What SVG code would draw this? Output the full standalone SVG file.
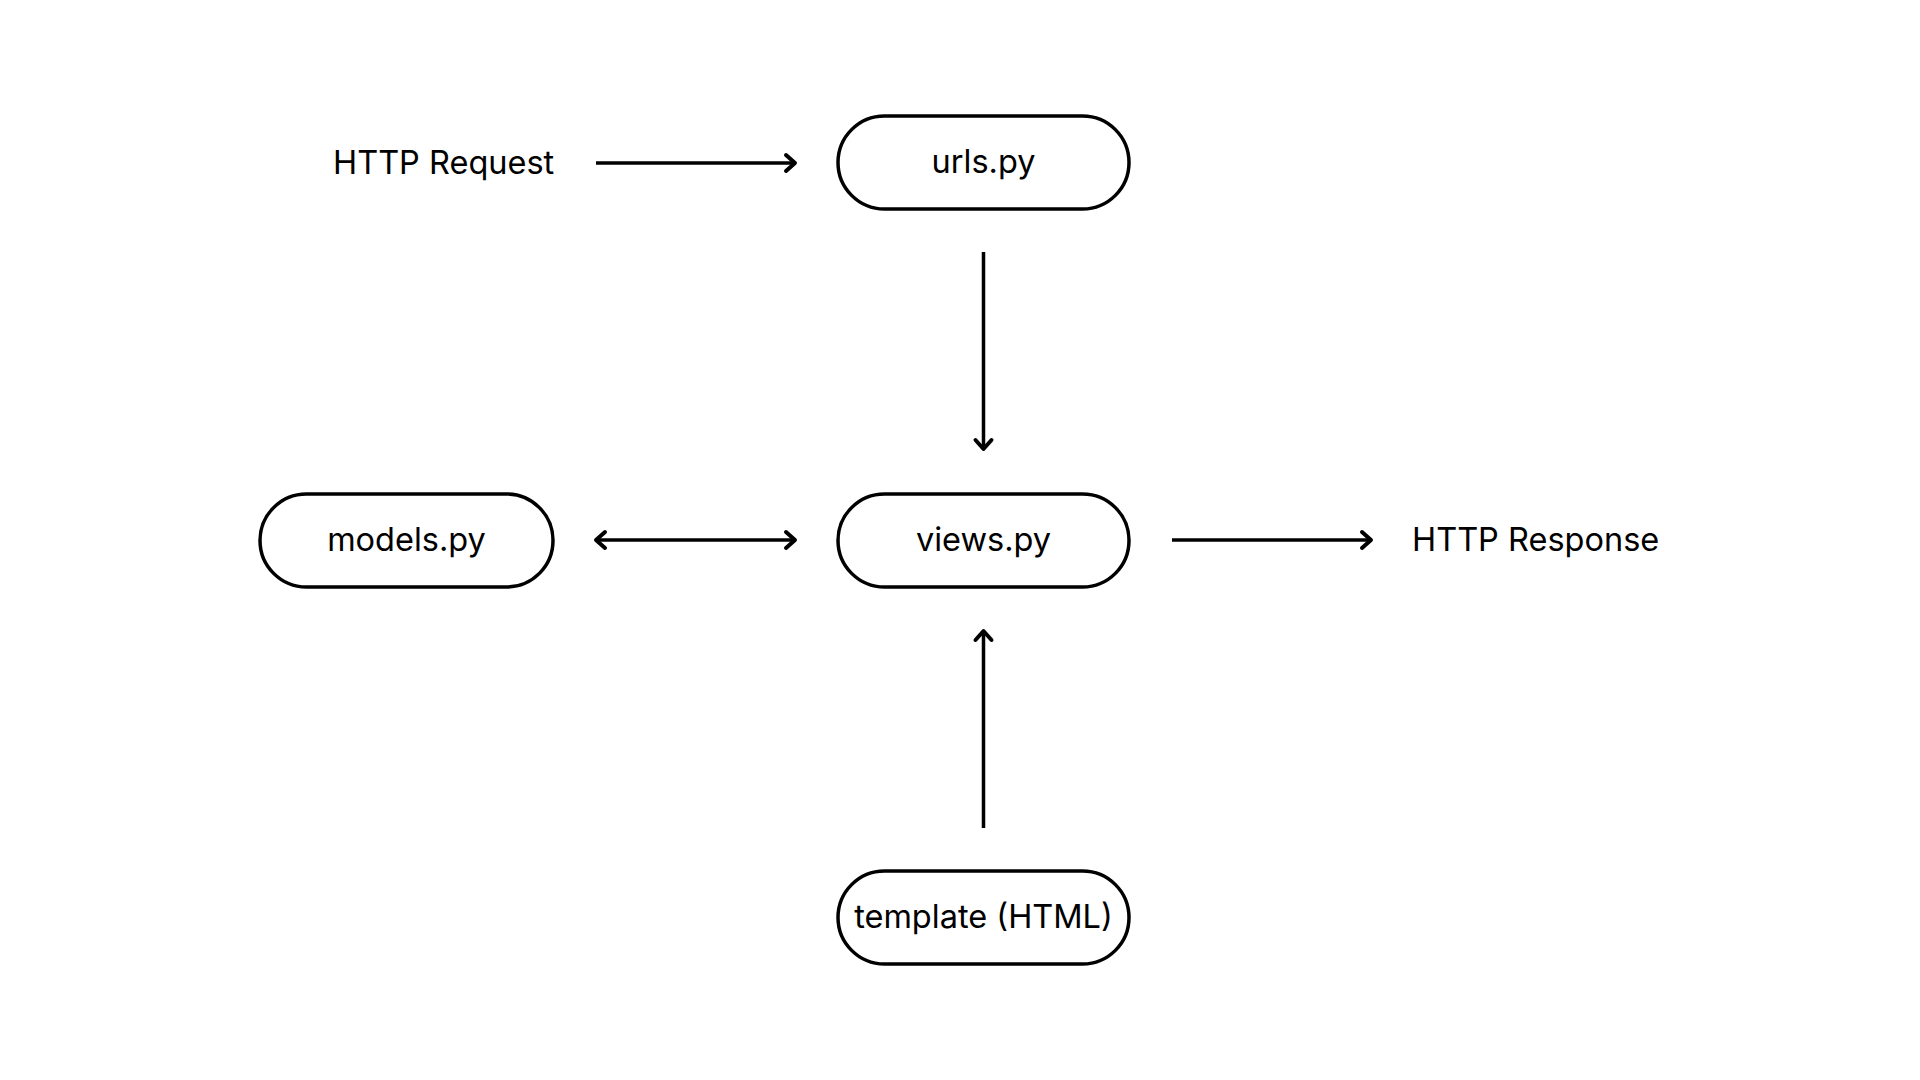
<svg xmlns="http://www.w3.org/2000/svg" width="1920" height="1080" viewBox="0 0 1920 1080">
  <style>
    .box { fill: #ffffff; stroke: #000000; stroke-width: 3.5; }
    .lbl { font-family: "Inter", "Noto Sans", "Liberation Sans", sans-serif; font-size: 32.5px; fill: #000000; dominant-baseline: central; }
    .mid { text-anchor: middle; }
    .conn { stroke: #000000; stroke-width: 3.5; fill: none; }
    .head { stroke: #000000; stroke-width: 4; fill: none; stroke-linecap: round; stroke-linejoin: round; }
  </style>
  <rect width="1920" height="1080" fill="#ffffff"/>

  <g id="http-request">
    <text class="lbl" x="333" y="162">HTTP Request</text>
  </g>
  <g id="urls">
    <rect class="box" x="838" y="116" width="291" height="93" rx="46.5"/>
    <text class="lbl mid" x="983.5" y="161.5">urls.py</text>
  </g>
  <g id="models">
    <rect class="box" x="260" y="494" width="293" height="93" rx="46.5"/>
    <text class="lbl mid" x="406.5" y="539">models.py</text>
  </g>
  <g id="views">
    <rect class="box" x="838" y="494" width="291" height="93" rx="46.5"/>
    <text class="lbl mid" x="983.5" y="539">views.py</text>
  </g>
  <g id="http-response">
    <text class="lbl" x="1412" y="539">HTTP Response</text>
  </g>
  <g id="template">
    <rect class="box" x="838" y="871" width="291" height="93" rx="46.5"/>
    <text class="lbl mid" x="983.5" y="916.5">template (HTML)</text>
  </g>

  <g id="connectors">
    <!-- HTTP Request -> urls.py -->
    <line class="conn" x1="596" y1="163" x2="794" y2="163"/>
    <polyline class="head" points="786,155 795,163 786,171"/>
    <!-- urls.py -> views.py -->
    <line class="conn" x1="983.5" y1="252" x2="983.5" y2="448"/>
    <polyline class="head" points="975.5,440 983.5,449 991.5,440"/>
    <!-- models.py <-> views.py -->
    <line class="conn" x1="597" y1="540" x2="794" y2="540"/>
    <polyline class="head" points="786,532 795,540 786,548"/>
    <polyline class="head" points="605,532 596,540 605,548"/>
    <!-- views.py -> HTTP Response -->
    <line class="conn" x1="1172" y1="540" x2="1370" y2="540"/>
    <polyline class="head" points="1362,532 1371,540 1362,548"/>
    <!-- template -> views.py -->
    <line class="conn" x1="983.5" y1="828" x2="983.5" y2="632"/>
    <polyline class="head" points="975.5,640 983.5,631 991.5,640"/>
  </g>
</svg>
